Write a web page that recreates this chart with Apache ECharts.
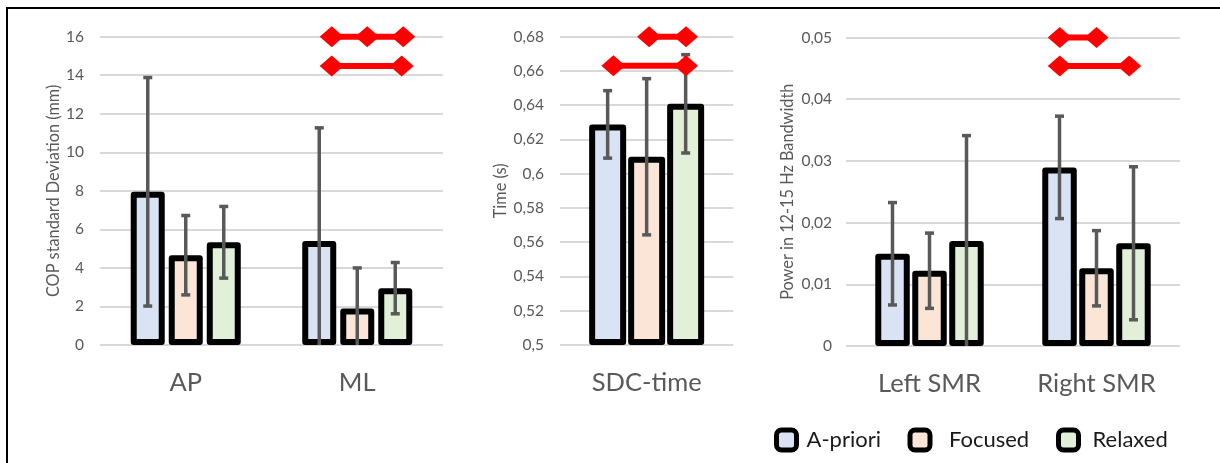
<!DOCTYPE html>
<html>
<head>
<meta charset="utf-8">
<script src="https://cdn.jsdelivr.net/npm/echarts@6/dist/echarts.min.js"></script>
<style>
  html, body { margin: 0; padding: 0; background: #fff; }
  #chart { width: 1220px; height: 463px; }
</style>
</head>
<body>
<div id="chart"></div>
<script>
// ---- Groups and conditions ----
const conditionNames = ['A-priori', 'Focused', 'Relaxed'];
const copCategories = ['AP', 'ML'];
const sdcCategories = ['SDC-time'];
const smrCategories = ['Left SMR', 'Right SMR'];

// ---- COP standard deviation (mm): mean and SD ----
const copAPriori = [7.95, 5.4];
const copAPrioriSD = [5.93, 5.87];
const copFocused = [4.66, 1.9];
const copFocusedSD = [2.06, 2.1];
const copRelaxed = [5.33, 2.95];
const copRelaxedSD = [1.86, 1.33];

// ---- SDC time (s): mean and SD ----
const sdcAPriori = [0.6288];
const sdcAPrioriSD = [0.0197];
const sdcFocused = [0.6099];
const sdcFocusedSD = [0.0456];
const sdcRelaxed = [0.6408];
const sdcRelaxedSD = [0.0287];

// ---- Power in 12-15 Hz band: mean and SD ----
const smrAPriori = [0.01495, 0.02895];
const smrAPrioriSD = [0.0083, 0.0083];
const smrFocused = [0.0122, 0.0126];
const smrFocusedSD = [0.0061, 0.0061];
const smrRelaxed = [0.017, 0.01665];
const smrRelaxedSD = [0.0171, 0.0124];

// ---- Value-axis ticks ----
const copTicks = [0, 2, 4, 6, 8, 10, 12, 14, 16];
const sdcTicks = [0.5, 0.52, 0.54, 0.56, 0.58, 0.6, 0.62, 0.64, 0.66, 0.68];
const smrTicks = [0, 0.01, 0.02, 0.03, 0.04, 0.05];

// ---- Significance brackets: x in category-index units, y in axis units ----
const copSignificance = [
  { y: 16.0, x: [0.851, 1.058, 1.268] },
  { y: 14.48, x: [0.851, 1.259] }
];
const sdcSignificance = [
  { y: 0.68, x: [0.014, 0.227] },
  { y: 0.6631, x: [-0.192, 0.227] }
];
const smrSignificance = [
  { y: 0.05, x: [0.78, 1.0] },
  { y: 0.0454, x: [0.78, 1.196] }
];

// ---- Styling ----
const FONT = 'Lato, "Noto Sans", sans-serif';
const fills = ['#dae3f3', '#fbe5d6', '#e2f0d9'];
const GREY = '#595959';

function commaNumber(v) {
  return String(Number(v.toFixed(4))).replace('.', ',');
}

const panels = [
  {
    grid: { left: 100, top: 36.7, width: 343, height: 308.3 },
    categories: copCategories,
    means: [copAPriori, copFocused, copRelaxed],
    sds: [copAPrioriSD, copFocusedSD, copRelaxedSD],
    ticks: copTicks,
    title: 'COP standard Deviation (mm)', nameGap: 38, labelMargin: 16,
    barWidth: 34, pitch: 38,
    significance: copSignificance
  },
  {
    grid: { left: 560, top: 36.7, width: 173.3, height: 308.3 },
    categories: sdcCategories,
    means: [sdcAPriori, sdcFocused, sdcRelaxed],
    sds: [sdcAPrioriSD, sdcFocusedSD, sdcRelaxedSD],
    ticks: sdcTicks,
    title: 'Time (s)', nameGap: 51, labelMargin: 16,
    barWidth: 37, pitch: 39,
    significance: sdcSignificance
  },
  {
    grid: { left: 846, top: 37.5, width: 334, height: 308.5 },
    categories: smrCategories,
    means: [smrAPriori, smrFocused, smrRelaxed],
    sds: [smrAPrioriSD, smrFocusedSD, smrRelaxedSD],
    ticks: smrTicks,
    title: 'Power in 12-15 Hz Bandwidth', nameGap: 50, labelMargin: 14,
    barWidth: 34.5, pitch: 37,
    significance: smrSignificance
  }
];

const grids = [];
const xAxes = [];
const yAxes = [];
const series = [];

panels.forEach((p, pi) => {
  const n = p.categories.length;
  const tMin = p.ticks[0];
  const tMax = p.ticks[p.ticks.length - 1];
  const step = Number((p.ticks[1] - p.ticks[0]).toFixed(6));

  grids.push(Object.assign({ outerBoundsMode: 'none', containLabel: false }, p.grid));

  // category axis (bars) and hidden value axis for the brackets
  const catIdx = xAxes.length;
  xAxes.push({
    type: 'category', gridIndex: pi, data: p.categories,
    axisLine: { show: false }, axisTick: { show: false },
    axisLabel: { color: GREY, fontFamily: FONT, fontSize: 25.5, margin: 25 }
  });
  const valIdx = xAxes.length;
  xAxes.push({
    type: 'value', gridIndex: pi, min: -0.5, max: n - 0.5, show: false,
    splitLine: { show: false }
  });

  yAxes.push({
    type: 'value', gridIndex: pi, min: tMin, max: tMax, interval: step,
    startValue: tMin,
    name: p.title, nameLocation: 'middle', nameGap: p.nameGap, nameRotate: 90,
    nameTextStyle: { color: GREY, fontFamily: FONT, fontSize: 16.3 },
    axisLine: { show: false }, axisTick: { show: false },
    axisLabel: { color: GREY, fontFamily: FONT, fontSize: 15.5, margin: p.labelMargin, formatter: commaNumber },
    splitLine: { lineStyle: { color: '#d9d9d9', width: 2 } }
  });

  const gap = ((p.pitch - p.barWidth) / p.barWidth * 100).toFixed(1) + '%';

  conditionNames.forEach((name, si) => {
    series.push({
      type: 'bar', name, xAxisIndex: catIdx, yAxisIndex: pi,
      data: p.means[si], barWidth: p.barWidth, barGap: gap,
      itemStyle: { color: fills[si], borderColor: '#000', borderWidth: 6, borderJoin: 'round' },
      z: 2, silent: true
    });
  });

  conditionNames.forEach((name, si) => {
    const means = p.means[si];
    const sds = p.sds[si];
    series.push({
      type: 'custom', xAxisIndex: catIdx, yAxisIndex: pi, z: 5, silent: true,
      data: means.map((m, i) => [i, m, sds[i]]),
      renderItem(params, api) {
        const i = api.value(0), m = api.value(1), s = api.value(2);
        const lowVal = Math.max(tMin, m - s);
        const lo = api.coord([i, lowVal]);
        const hi = api.coord([i, m + s]);
        const x = lo[0] + (si - 1) * p.pitch;
        const style = { stroke: GREY, lineWidth: 3.5, fill: null };
        const children = [
          { type: 'line', shape: { x1: x, y1: lo[1], x2: x, y2: hi[1] }, style },
          { type: 'line', shape: { x1: x - 4.5, y1: hi[1], x2: x + 4.5, y2: hi[1] }, style }
        ];
        if (m - s > tMin) {
          children.push({ type: 'line', shape: { x1: x - 4.5, y1: lo[1], x2: x + 4.5, y2: lo[1] }, style });
        }
        return { type: 'group', children };
      }
    });
  });

  p.significance.forEach((row) => {
    series.push({
      type: 'line', xAxisIndex: valIdx, yAxisIndex: pi,
      data: row.x.map((x) => [x, row.y]),
      symbol: 'diamond', symbolSize: [24, 21], showSymbol: true,
      lineStyle: { color: '#ff0000', width: 6 },
      itemStyle: { color: '#ff0000' },
      clip: false, z: 10, silent: true
    });
  });
});

function legendFor(name, left, padLeft) {
  return {
    data: [name], left, top: 427.5, orient: 'horizontal',
    itemWidth: 20, itemHeight: 20, padding: 0,
    itemStyle: { borderColor: '#000', borderWidth: 5 },
    textStyle: { color: '#1a1a1a', fontFamily: FONT, fontSize: 22, padding: [0, 0, 0, padLeft] },
    selectedMode: false
  };
}

const chart = echarts.init(document.getElementById('chart'), null, { renderer: 'canvas' });
chart.setOption({
  animation: false,
  backgroundColor: '#ffffff',
  grid: grids,
  xAxis: xAxes,
  yAxis: yAxes,
  legend: [
    legendFor('A-priori', 774, 5),
    legendFor('Focused', 907.5, 14),
    legendFor('Relaxed', 1056, 9)
  ],
  graphic: [{
    type: 'polyline', silent: true,
    shape: { points: [[7, 470], [7, 8], [1230, 8]] },
    style: { stroke: '#000', lineWidth: 2, fill: null }
  }],
  series
});
</script>
</body>
</html>
